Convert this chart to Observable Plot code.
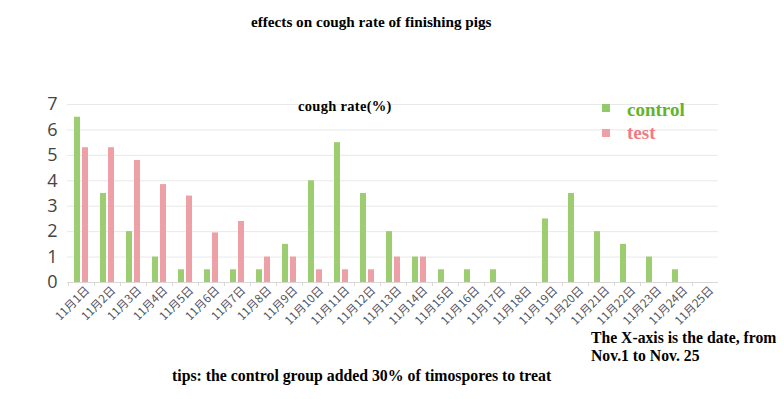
<!DOCTYPE html>
<html>
<head>
<meta charset="utf-8">
<script src="https://cdn.jsdelivr.net/npm/d3@7"></script>
<script src="https://cdn.jsdelivr.net/npm/@observablehq/plot@0.6"></script>
<style>
  html, body { margin: 0; padding: 0; background: #fff; }
  #wrap { position: relative; width: 784px; height: 399px; overflow: hidden; }
  .t { position: absolute; font-family: "Liberation Serif", "DejaVu Serif", serif; font-weight: bold; white-space: nowrap; color: #000; line-height: 1; }
  .sq { position: absolute; width: 8px; height: 8px; }
</style>
</head>
<body>
<div id="wrap">
  <div id="chart"></div>
  <div class="t" style="left:251px; top:14px; font-size:15.5px; transform-origin:left top; transform:scaleX(0.98);">effects on cough rate of finishing pigs</div>
  <div class="t" style="left:298px; top:99px; font-size:14.5px; letter-spacing:0.3px;">cough rate(%)</div>
  <div class="sq" style="left:602px; top:104px; background:#92c96a;"></div>
  <div class="t" style="left:627px; top:100px; font-size:19px; color:#62b42c;">control</div>
  <div class="sq" style="left:602px; top:129px; background:#eea0a5;"></div>
  <div class="t" style="left:627px; top:123px; font-size:19px; color:#ee7c82;">test</div>
  <div class="t" style="left:591px; top:330px; font-size:15.7px;">The X-axis is the date, from</div>
  <div class="t" style="left:591px; top:348px; font-size:15.7px;">Nov.1 to Nov. 25</div>
  <div class="t" style="left:172px; top:368px; font-size:15.8px;">tips: the control group added 30% of timospores to treat</div>
</div>
<script>
const days = ["11月1日","11月2日","11月3日","11月4日","11月5日","11月6日","11月7日","11月8日","11月9日","11月10日","11月11日","11月12日","11月13日","11月14日","11月15日","11月16日","11月17日","11月18日","11月19日","11月20日","11月21日","11月22日","11月23日","11月24日","11月25日"];
const control = [6.5, 3.5, 2, 1, 0.5, 0.5, 0.5, 0.5, 1.5, 4, 5.5, 3.5, 2, 1, 0.5, 0.5, 0.5, 0, 2.5, 3.5, 2, 1.5, 1, 0.5, 0];
const test = [5.3, 5.3, 4.8, 3.85, 3.4, 1.95, 2.4, 1, 1, 0.5, 0.5, 0.5, 1, 1, 0, 0, 0, 0, 0, 0, 0, 0, 0, 0, 0];
const yTicks = [0, 1, 2, 3, 4, 5, 6, 7];

const controlData = days.map((d, i) => ({day: d, value: control[i]}));
const testData = days.map((d, i) => ({day: d, value: test[i]}));

const chart = Plot.plot({
  width: 784,
  height: 399,
  marginLeft: 67,
  marginRight: 66,
  marginTop: 104,
  marginBottom: 117,
  style: {background: "transparent", fontFamily: "'Noto Sans CJK SC', 'Noto Sans', sans-serif"},
  x: {domain: days, padding: 0, label: null},
  y: {domain: [0, 7], label: null},
  marks: [
    Plot.gridY(yTicks, {stroke: "#e8e8e8", strokeOpacity: 1}),
    Plot.ruleY([0], {stroke: "#d8d8d8"}),
    Plot.axisX({tickSize: 4, tickFormat: () => "", dx: -13, stroke: "#d8d8d8"}),
    Plot.axisX({tickSize: 0, tickRotate: -45, tickPadding: 6, dx: 6, fontSize: 11.5, fill: "#555", label: null}),
    Plot.axisY(yTicks, {tickSize: 0, tickPadding: 10, fontSize: 18, fill: "#444", fontFamily: "'Open Sans', sans-serif", label: null}),
    Plot.barY(controlData, {x: "day", y: "value", fill: "#9ccd70", insetLeft: 6, insetRight: 14}),
    Plot.barY(testData, {x: "day", y: "value", fill: "#eda0a5", insetLeft: 14, insetRight: 6})
  ]
});
document.getElementById("chart").appendChild(chart);
</script>
</body>
</html>
